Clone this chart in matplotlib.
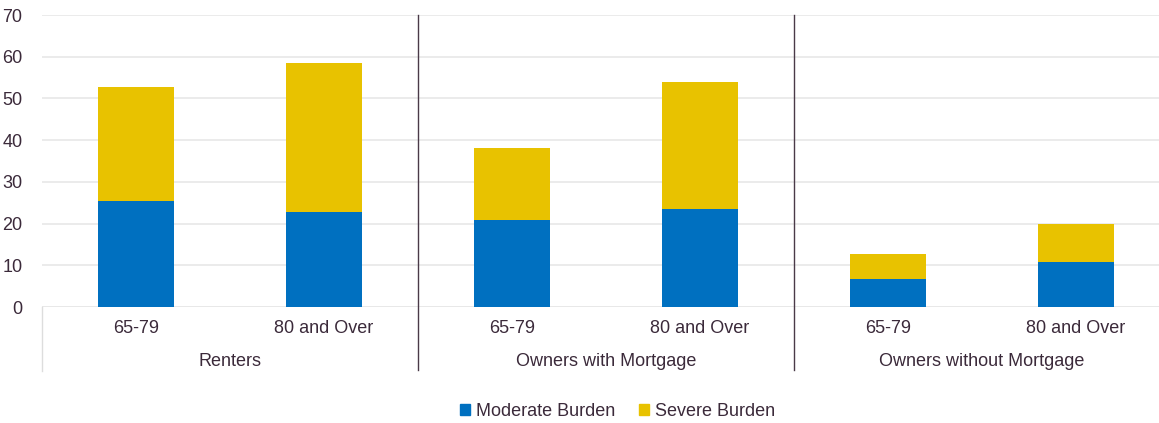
import matplotlib.pyplot as plt
from matplotlib.patches import Patch
from matplotlib.transforms import blended_transform_factory

# values (percent)
groups = ['Renters', 'Owners with Mortgage', 'Owners without Mortgage']
ages = ['65-79', '80 and Over']
moderate = [25.4, 22.8, 20.8, 23.5, 6.7, 10.7]
severe = [27.3, 35.6, 17.2, 30.4, 5.9, 9.1]

BLUE = '#0070C0'
GOLD = '#E8C200'
TEXT = '#3B2A3A'
GRID = '#E8E8E8'

plt.rcParams['font.family'] = ['Liberation Sans', 'DejaVu Sans']

fig = plt.figure(figsize=(11.59, 4.23), dpi=100)
ax = fig.add_axes([42 / 1159, 116 / 423, 1128 / 1159, 292 / 423])

x = list(range(len(moderate)))
ax.bar(x, moderate, width=0.4, color=BLUE, zorder=3)
ax.bar(x, severe, width=0.4, bottom=moderate, color=GOLD, zorder=3)

ax.set_xlim(-0.5, len(x) - 0.5)
ax.set_ylim(0, 70)
ax.set_yticks(range(0, 71, 10))
ax.yaxis.grid(True, color=GRID, linewidth=1.2, zorder=0)
ax.set_axisbelow(True)
ax.tick_params(axis='y', length=0, labelsize=13, labelcolor=TEXT, pad=14)
ax.set_xticks([])
for side in ['top', 'right', 'left', 'bottom']:
    ax.spines[side].set_visible(False)
ax.axhline(0, color=GRID, linewidth=1.2, zorder=2)

trans = blended_transform_factory(ax.transData, ax.transAxes)
# age labels and group labels under the axis
for i in x:
    ax.text(i, -0.075, ages[i % 2], transform=trans, ha='center', va='center',
            fontsize=13, color=TEXT)
for g, name in enumerate(groups):
    ax.text(2 * g + 0.5, -0.185, name, transform=trans, ha='center', va='center',
            fontsize=13, color=TEXT)

# group separators
ax.plot([-0.5, -0.5], [0, -0.22], transform=trans, color='#DDDDDD',
        linewidth=1, clip_on=False)
for g in range(1, len(groups)):
    ax.plot([2 * g - 0.5, 2 * g - 0.5], [1.0, -0.216], transform=trans,
            color='#4A3A48', linewidth=1, clip_on=False)

handles = [Patch(color=BLUE, label='Moderate Burden'),
           Patch(color=GOLD, label='Severe Burden')]
leg = fig.legend(handles=handles, loc='center', bbox_to_anchor=(0.533, 0.028),
                 ncol=2, frameon=False, fontsize=13, handlelength=0.55,
                 handleheight=0.55, handletextpad=0.35, columnspacing=1.3)
for t in leg.get_texts():
    t.set_color(TEXT)

fig.savefig('out.png', dpi=100)
